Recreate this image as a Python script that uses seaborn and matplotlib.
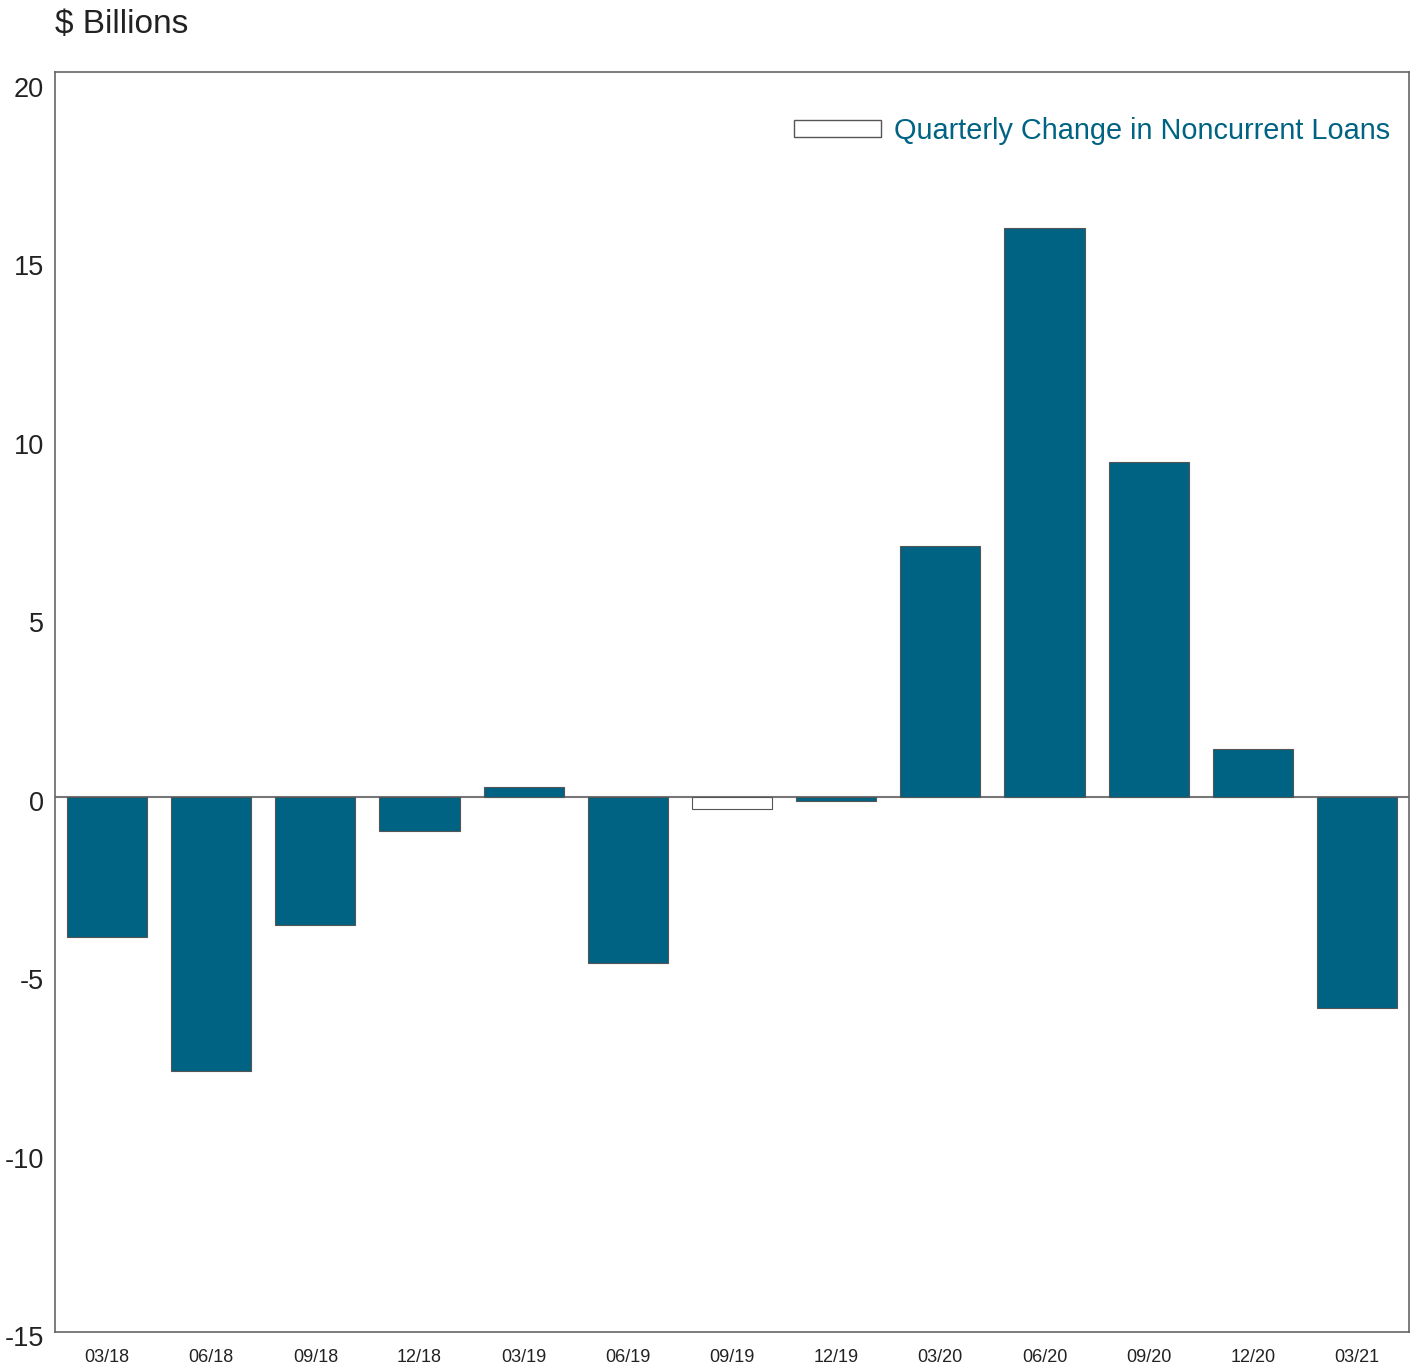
import matplotlib
matplotlib.use("Agg")
import matplotlib.pyplot as plt
import matplotlib.transforms as mtransforms
from matplotlib.patches import Patch
import numpy as np
import pandas as pd
import seaborn as sns

quarters = ["03/18", "06/18", "09/18", "12/18", "03/19", "06/19", "09/19",
            "12/19", "03/20", "06/20", "09/20", "12/20", "03/21"]
change = [-3.94, -7.68, -3.60, -0.97, 0.26, -4.67, -0.34,
          -0.12, 7.01, 15.92, 9.36, 1.32, -5.91]

teal = "#006383"
bar_colors = [teal] * len(quarters)
bar_colors[6] = "white"

df = pd.DataFrame({"quarter": quarters, "change": change})

sns.set_theme(style="white")
plt.rcParams["font.family"] = ["Liberation Sans", "DejaVu Sans"]
plt.rcParams["axes.unicode_minus"] = False

fig = plt.figure(figsize=(14.18, 13.68), dpi=100)
ax = fig.add_axes([55 / 1418, 1 - 1332 / 1368, 1354 / 1418, 1260 / 1368])

sns.barplot(data=df, x="quarter", y="change", hue="quarter", palette=bar_colors,
            saturation=1, width=0.77, edgecolor="#555555", linewidth=0.8,
            legend=False, ax=ax)

ax.axhline(0, color="#777777", linewidth=1.5, zorder=0.5)
ax.set_ylim(-15, 20.3)
ax.set_xlim(-0.5, len(quarters) - 0.5)
ax.set_yticks([-15, -10, -5, 0, 5, 10, 15, 20])
ax.set_xlabel("")
ax.set_ylabel("")
ax.tick_params(axis="y", labelsize=19.5, length=0, pad=8, colors="#222222")
ax.tick_params(axis="x", labelsize=13, length=0, pad=12, colors="#222222")
shift = mtransforms.ScaledTranslation(0, -4 / 100, fig.dpi_scale_trans)
for lab in ax.get_yticklabels():
    lab.set_transform(lab.get_transform() + shift)
for s in ax.spines.values():
    s.set_color("#666666")
    s.set_linewidth(1.2)

fig.text(55 / 1418, 1 - 24 / 1368, "$ Billions", fontsize=24, color="#222222",
         ha="left", va="center")

handle = Patch(facecolor="white", edgecolor="#555555", linewidth=1)
leg = ax.legend([handle], ["Quarterly Change in Noncurrent Loans"], loc="upper right",
                frameon=False, fontsize=20.8, handlelength=3.0, handleheight=0.5,
                handletextpad=0.45, borderaxespad=0.4, bbox_to_anchor=(1.003, 0.983))
for t in leg.get_texts():
    t.set_color(teal)

fig.savefig("out.png", dpi=100)
